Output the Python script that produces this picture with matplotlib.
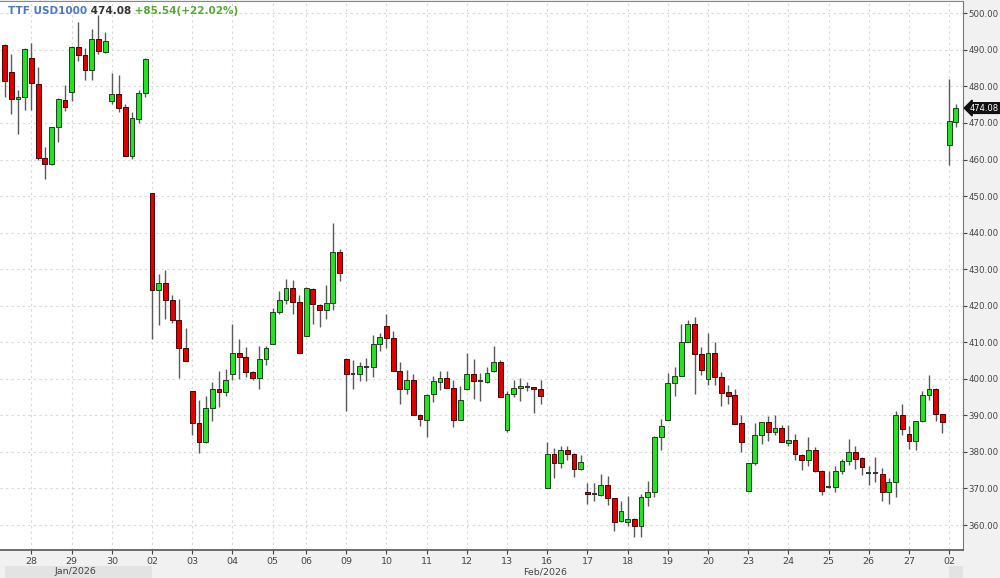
import matplotlib
matplotlib.use("Agg")
import matplotlib.pyplot as plt
import matplotlib.transforms as mtransforms
from matplotlib.patches import Rectangle
import numpy as np

# ---- data (4-hour candles) ----
opens = [491.3, 484.0, 476.5, 477.0, 487.9, 480.6, 460.4, 458.9, 468.8, 476.4,
         478.6, 490.9, 488.5, 484.5, 492.9, 489.5, 476.1, 477.8, 474.4, 461.0,
         471.2, 478.3, 450.9, 424.4, 426.2, 421.5, 416.0, 408.4, 396.6, 387.9,
         382.6, 392.0, 397.2, 396.4, 401.3, 407.0, 406.1, 401.9, 400.3, 405.5,
         409.6, 418.4, 421.5, 424.8, 421.0, 411.6, 424.6, 420.3, 418.7, 420.7,
         434.7, 405.5, 401.4, 401.2, 403.3, 403.2, 409.6, 414.4, 411.2, 402.0,
         397.1, 399.7, 390.2, 388.8, 395.9, 399.2, 400.1, 397.5, 388.8, 397.1,
         401.4, 399.3, 399.2, 402.0, 404.7, 386.1, 395.9, 397.4, 397.7, 397.7,
         397.2, 370.1, 379.4, 377.0, 380.6, 379.4, 375.2, 369.1, 368.5, 368.2,
         371.0, 367.3, 361.0, 360.9, 361.6, 359.8, 367.7, 368.9, 384.2, 388.8,
         398.8, 400.9, 410.2, 415.1, 406.8, 400.0, 407.0, 400.6, 396.3, 395.6,
         387.8, 369.4, 377.0, 384.5, 388.1, 385.4, 386.6, 382.5, 383.3, 379.2,
         377.8, 380.4, 374.7, 370.3, 370.3, 374.9, 377.4, 380.1, 378.3, 374.1,
         374.1, 373.9, 368.9, 371.7, 390.2, 384.9, 383.1, 388.4, 395.6, 397.2,
         390.4, 463.9, 470.3]
highs = [491.6, 488.9, 479.0, 490.4, 491.8, 485.4, 463.5, 468.9, 476.7, 480.4,
         491.0, 497.5, 490.4, 495.6, 499.5, 495.0, 483.7, 483.0, 475.3, 473.1,
         479.0, 487.9, 450.9, 428.8, 429.9, 423.0, 421.9, 413.9, 396.6, 394.3,
         395.2, 399.1, 402.1, 402.7, 415.1, 411.0, 408.7, 402.0, 408.9, 409.1,
         419.4, 423.9, 427.4, 427.0, 423.0, 425.0, 424.8, 420.5, 425.6, 442.5,
         435.6, 405.6, 405.2, 404.7, 405.7, 411.9, 412.6, 417.6, 413.2, 404.7,
         402.5, 401.2, 390.3, 395.8, 400.9, 402.1, 402.0, 399.7, 397.9, 407.0,
         405.5, 401.5, 403.2, 409.1, 405.2, 396.6, 399.7, 400.2, 399.2, 397.8,
         399.7, 382.6, 381.0, 381.7, 381.7, 379.6, 379.2, 371.4, 371.4, 374.0,
         373.5, 367.5, 366.5, 367.8, 361.9, 368.5, 372.1, 384.3, 389.0, 401.5,
         403.2, 415.1, 416.2, 416.9, 408.8, 412.5, 410.0, 401.9, 398.4, 397.2,
         390.1, 377.1, 387.8, 388.1, 389.8, 390.1, 387.4, 387.4, 384.9, 379.4,
         384.2, 381.3, 375.0, 374.7, 376.2, 378.1, 383.6, 381.7, 378.5, 376.2,
         378.7, 375.5, 372.9, 391.3, 393.1, 387.2, 388.4, 396.8, 401.1, 397.4,
         390.5, 482.0, 475.1]
lows = [477.0, 472.4, 466.9, 473.5, 473.5, 460.0, 454.8, 458.5, 464.8, 473.2,
        476.0, 487.0, 481.7, 481.7, 488.8, 489.2, 475.3, 472.9, 461.0, 460.2,
        469.9, 477.0, 410.8, 414.6, 416.3, 415.2, 400.3, 404.8, 384.7, 379.6,
        382.5, 388.4, 392.4, 395.4, 399.8, 400.0, 400.5, 399.7, 397.3, 403.8,
        409.5, 417.8, 420.4, 417.6, 407.1, 411.6, 414.9, 414.2, 416.3, 418.7,
        426.8, 391.3, 397.2, 399.5, 399.5, 400.6, 407.5, 408.5, 402.0, 393.1,
        395.9, 390.2, 387.1, 384.2, 393.6, 397.0, 397.5, 386.7, 388.7, 397.0,
        394.5, 394.0, 398.8, 401.9, 395.1, 385.4, 395.0, 394.0, 396.6, 390.6,
        393.1, 370.1, 372.9, 375.6, 377.9, 373.1, 375.1, 365.7, 366.5, 367.8,
        365.6, 358.4, 360.7, 359.8, 356.6, 356.6, 365.3, 367.6, 380.4, 388.7,
        395.4, 400.7, 410.0, 395.9, 401.1, 398.4, 398.2, 392.5, 393.1, 387.6,
        379.9, 369.4, 376.4, 382.2, 383.1, 384.5, 382.6, 381.5, 377.8, 375.1,
        376.2, 374.6, 368.3, 370.1, 368.9, 374.0, 376.4, 375.3, 373.8, 371.0,
        371.7, 366.6, 365.7, 367.6, 384.6, 380.8, 380.4, 388.3, 394.2, 388.4,
        385.2, 458.4, 469.0]
closes = [481.5, 476.5, 477.1, 490.2, 480.8, 460.5, 458.9, 468.9, 476.5, 474.4,
          490.9, 488.5, 484.5, 492.9, 489.8, 492.4, 478.0, 474.2, 461.0, 471.4,
          478.3, 487.4, 424.4, 426.2, 421.6, 416.0, 408.4, 404.8, 387.9, 382.6,
          392.0, 397.2, 396.4, 399.8, 407.0, 406.1, 401.9, 400.3, 405.5, 408.4,
          418.4, 421.5, 424.8, 421.0, 407.1, 424.8, 420.5, 418.7, 420.7, 434.7,
          429.0, 401.4, 401.4, 403.4, 403.3, 409.6, 411.4, 411.2, 402.0, 397.1,
          399.7, 390.2, 389.0, 395.7, 399.3, 400.3, 397.5, 388.8, 394.3, 401.4,
          399.3, 399.3, 401.6, 404.7, 395.1, 395.9, 397.5, 397.9, 397.7, 397.1,
          395.4, 379.3, 377.0, 380.6, 379.4, 375.2, 377.2, 368.5, 368.5, 371.0,
          367.4, 360.7, 363.9, 361.6, 359.8, 367.6, 368.9, 384.2, 387.2, 398.8,
          400.9, 410.2, 415.1, 406.8, 402.3, 407.0, 400.6, 396.2, 395.4, 387.7,
          382.8, 377.0, 384.5, 388.1, 385.4, 386.6, 382.8, 383.3, 379.4, 377.8,
          380.4, 374.7, 369.2, 370.3, 374.9, 377.4, 380.1, 378.1, 375.8, 374.1,
          374.1, 368.9, 371.7, 390.2, 386.3, 383.1, 388.4, 395.6, 397.2, 390.4,
          388.1, 470.5, 474.08]

# day ticks (candle index where each day starts) and labels
day_tick_idx = [4, 10, 16, 22, 28, 34, 40, 45, 51, 57, 63, 69, 75, 81, 87, 93,
                99, 105, 111, 117, 123, 129, 135, 141]
day_labels = ['28', '29', '30', '02', '03', '04', '05', '06', '09', '10', '11',
              '12', '13', '16', '17', '18', '19', '20', '23', '24', '25', '26',
              '27', '02']
y_ticks = list(range(360, 501, 10))
month_labels = ['Jan/2026', 'Feb/2026']
title_name = 'TTF USD1000'
last_price = '474.08'
change_text = '+85.54(+22.02%)'

# ---- figure ----
fig = plt.figure(figsize=(10, 5.78), dpi=100, facecolor='#f1f1f1')
ax = fig.add_axes([0.0, 28 / 578, 0.963, 1 - 29 / 578])
ax.set_facecolor('white')

o = np.array(opens); h = np.array(highs); l = np.array(lows); c = np.array(closes)
x = np.arange(len(o))

GREEN = '#22e222'
RED = '#e00000'

ax.vlines(x, l, h, color='#5a5a5a', lw=1.0, zorder=2)

up = c > o + 0.05
dn = c < o - 0.05
dj = ~(up | dn)

ax.bar(x[up], (c - o)[up], bottom=o[up], width=0.72, color=GREEN,
       edgecolor='#1f3f1f', linewidth=0.7, zorder=3)
ax.bar(x[dn], (o - c)[dn], bottom=c[dn], width=0.72, color=RED,
       edgecolor='#4a0000', linewidth=0.7, zorder=3)
ax.hlines(o[dj], x[dj] - 0.36, x[dj] + 0.36, color='#333333', lw=1.4, zorder=3)

# axes limits
ax.set_xlim(-0.70, 143.07)
ax.set_ylim(353.16, 503.37)

# grid
ax.set_xticks(day_tick_idx)
ax.set_xticklabels(day_labels)
ax.set_yticks(y_ticks)
ax.set_yticklabels([f'{v:.2f}' for v in y_ticks])
ax.yaxis.tick_right()
ax.grid(True, color='#d9d9d9', linestyle=(0, (2, 3)), linewidth=0.8, zorder=0)
ax.tick_params(axis='x', labelsize=6.8, colors='#444444', length=3, width=0.8,
               direction='out', pad=2)
ax.tick_params(axis='y', labelsize=6.2, colors='#444444', length=3, width=0.8,
               direction='out', pad=1)

ax.spines['left'].set_visible(False)
ax.spines['top'].set_color('#888888')
ax.spines['right'].set_color('#777777')
ax.spines['bottom'].set_color('#555555')
ax.spines['bottom'].set_linewidth(1.2)

# month bands under the axis
blend = mtransforms.blended_transform_factory(ax.transData, fig.transFigure)
fig.add_artist(Rectangle((0.0, 0.0), 22.0, 12 / 578, transform=blend,
                         facecolor='#e3e3e3', edgecolor='none', clip_on=False))
fig.add_artist(Rectangle((141.0, 0.0), 2.07, 12 / 578, transform=blend,
                         facecolor='#e3e3e3', edgecolor='none', clip_on=False))
fig.text(75 / 1000, 6 / 578, month_labels[0], fontsize=6.8, color='#444444',
         ha='center', va='center')
fig.text(545 / 1000, 6 / 578, month_labels[1], fontsize=6.8, color='#444444',
         ha='center', va='center')

# price tag
tblend = mtransforms.blended_transform_factory(ax.transAxes, ax.transData)
ax.text(1.007, closes[-1], last_price, transform=tblend, color='white',
        fontsize=6.0, ha='left', va='center', zorder=5,
        bbox=dict(boxstyle='larrow,pad=0.1', fc='#111111', ec='#111111'))

# title
t1 = ax.text(0.008, 0.982, title_name, transform=ax.transAxes, fontsize=7.5,
             fontweight='bold', color='#4a78d0', ha='left', va='center')
t2 = ax.annotate(' ' + last_price, xy=(1, 0.5), xycoords=t1, fontsize=7.5,
                 fontweight='bold', color='#333333', ha='left', va='center')
t3 = ax.annotate(' ' + change_text, xy=(1, 0.5), xycoords=t2, fontsize=7.5,
                 fontweight='bold', color='#58a838', ha='left', va='center')

fig.savefig('out.png', dpi=100, facecolor=fig.get_facecolor())
